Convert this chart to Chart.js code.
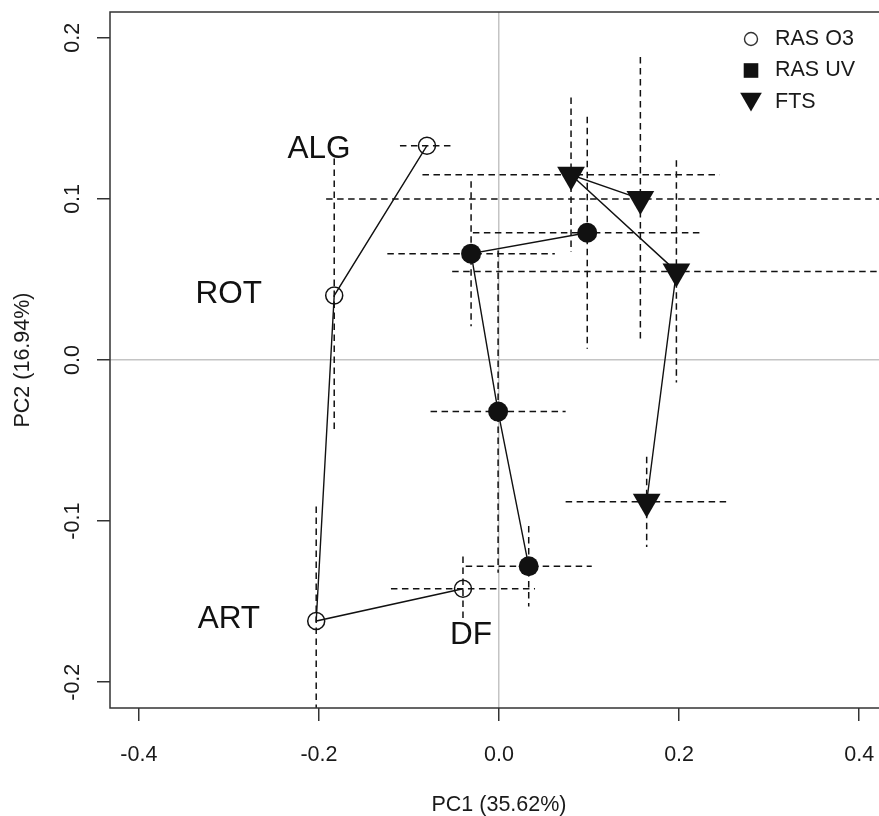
<!DOCTYPE html>
<html>
<head>
<meta charset="utf-8">
<title>PCA scores</title>
<script src="https://cdn.jsdelivr.net/npm/chart.js@4.4.1/dist/chart.umd.min.js"></script>
<style>
    html, body { margin: 0; padding: 0; background: #fff; overflow: hidden; }
    #wrap { width: 900px; height: 816px; position: relative; }
</style>
</head>
<body>
<div id="wrap"><canvas id="pcaChart"></canvas></div>
<script>
// RAS O3 scores, in the order the path joins them
const o3X = [-0.040, -0.203, -0.183, -0.080];
const o3Y = [-0.142, -0.162, 0.040, 0.133];
const o3XErr = [0.080, 0, 0, 0.030];
const o3YErr = [0.020, 0.071, 0.085, 0];

// RAS UV scores
const uvX = [0.098, -0.031, -0.001, 0.033];
const uvY = [0.079, 0.066, -0.032, -0.128];
const uvXErr = [0.127, 0.093, 0.075, 0.070];
const uvYErr = [0.072, 0.045, 0.100, 0.025];

// FTS scores
const ftsX = [0.157, 0.080, 0.197, 0.164];
const ftsY = [0.100, 0.115, 0.055, -0.088];
const ftsXErr = [0.349, 0.165, 0.249, 0.090];
const ftsYErr = [0.088, 0.048, 0.069, 0.028];

const xTicks = [-0.4, -0.2, 0.0, 0.2, 0.4];
const yTicks = [-0.2, -0.1, 0.0, 0.1, 0.2];

// site names written next to the O3 path
const siteNames = ['ALG', 'ROT', 'ART', 'DF'];
const siteNameX = [-0.200, -0.300, -0.300, -0.031];
const siteNameY = [0.131, 0.041, -0.161, -0.171];

const FONT = "'Liberation Sans', Arial, Helvetica, sans-serif";
const INK = '#111';

Chart.defaults.font.family = FONT;
Chart.defaults.color = '#1a1a1a';

function toPoints(xs, ys, xErr, yErr) {
    return xs.map((x, i) => ({ x: x, y: ys[i], xErr: xErr[i], yErr: yErr[i] }));
}

// fixed axis sizes, and no extra room reserved for overhanging labels
function pinAxis(size) {
    return s => {
        if (s.isHorizontal()) s.height = size; else s.width = size;
        s.paddingLeft = s.paddingRight = s.paddingTop = s.paddingBottom = 0;
    };
}

// dashed +/- bars behind the symbols
const errorBars = {
    id: 'errorBars',
    beforeDatasetsDraw(chart) {
        const { ctx, chartArea: a, scales: { x, y } } = chart;
        ctx.save();
        ctx.beginPath();
        ctx.rect(a.left, a.top, a.width, a.height);
        ctx.clip();
        ctx.strokeStyle = INK;
        ctx.lineWidth = 1.5;
        ctx.setLineDash([6.5, 4.5]);
        chart.data.datasets.forEach(ds => {
            ds.data.forEach(p => {
                const px = x.getPixelForValue(p.x);
                const py = y.getPixelForValue(p.y);
                if (p.xErr) {
                    ctx.beginPath();
                    ctx.moveTo(x.getPixelForValue(p.x - p.xErr), py);
                    ctx.lineTo(x.getPixelForValue(p.x + p.xErr), py);
                    ctx.stroke();
                }
                if (p.yErr) {
                    ctx.beginPath();
                    ctx.moveTo(px, y.getPixelForValue(p.y + p.yErr));
                    ctx.lineTo(px, y.getPixelForValue(p.y - p.yErr));
                    ctx.stroke();
                }
            });
        });
        ctx.restore();
    }
};

// frame, site names and the key
const decorations = {
    id: 'decorations',
    afterDraw(chart) {
        const { ctx, chartArea: a, scales: { x, y } } = chart;
        ctx.save();

        ctx.strokeStyle = '#333';
        ctx.lineWidth = 1.5;
        ctx.setLineDash([]);
        ctx.strokeRect(a.left, a.top, a.width, a.height);

        ctx.fillStyle = '#111';
        ctx.font = '31.5px ' + FONT;
        ctx.textAlign = 'center';
        ctx.textBaseline = 'middle';
        siteNames.forEach((name, i) => {
            ctx.fillText(name, x.getPixelForValue(siteNameX[i]), y.getPixelForValue(siteNameY[i]));
        });

        // key in the top right corner
        const kx = 751;
        const rows = [39, 70.5, 102];
        ctx.lineWidth = 1.4;
        ctx.beginPath();
        ctx.arc(kx, rows[0], 6.5, 0, Math.PI * 2);
        ctx.stroke();
        ctx.fillRect(kx - 7.3, rows[1] - 7.3, 14.6, 14.6);
        const r = 12.5;
        ctx.beginPath();
        ctx.moveTo(kx, rows[2] - 3 + r);
        ctx.lineTo(kx - r * 0.866, rows[2] - 3 - r / 2);
        ctx.lineTo(kx + r * 0.866, rows[2] - 3 - r / 2);
        ctx.closePath();
        ctx.fill();

        ctx.font = '21.5px ' + FONT;
        ctx.textAlign = 'left';
        ctx.fillStyle = '#1a1a1a';
        ['RAS O3', 'RAS UV', 'FTS'].forEach((t, i) => ctx.fillText(t, 775, rows[i]));

        ctx.restore();
    }
};

const zeroGrid = c => (c.tick && c.tick.value === 0 ? '#c4c4c4' : 'rgba(0,0,0,0)');
const oneDecimal = v => Number(v).toFixed(1);

const ctx = document.getElementById('pcaChart').getContext('2d');
new Chart(ctx, {
    type: 'scatter',
    data: {
        datasets: [
            {
                label: 'RAS O3',
                data: toPoints(o3X, o3Y, o3XErr, o3YErr),
                showLine: true,
                borderColor: INK,
                borderWidth: 1.4,
                pointStyle: 'circle',
                pointRadius: 8.5,
                pointBackgroundColor: 'rgba(0,0,0,0)',
                pointBorderColor: INK,
                pointBorderWidth: 1.5
            },
            {
                label: 'RAS UV',
                data: toPoints(uvX, uvY, uvXErr, uvYErr),
                showLine: true,
                borderColor: INK,
                borderWidth: 1.4,
                pointStyle: 'circle',
                pointRadius: 10,
                pointBackgroundColor: INK,
                pointBorderColor: INK,
                pointBorderWidth: 0
            },
            {
                label: 'FTS',
                data: toPoints(ftsX, ftsY, ftsXErr, ftsYErr),
                showLine: true,
                borderColor: INK,
                borderWidth: 1.4,
                pointStyle: 'triangle',
                pointRotation: 180,
                pointRadius: 16,
                pointBackgroundColor: INK,
                pointBorderColor: INK,
                pointBorderWidth: 0
            }
        ]
    },
    options: {
        responsive: true,
        maintainAspectRatio: false,
        animation: false,
        events: [],
        layout: { autoPadding: false, padding: { top: 12, right: 12, left: 0, bottom: 0 } },
        plugins: {
            legend: { display: false },
            tooltip: { enabled: false }
        },
        scales: {
            x: {
                type: 'linear',
                min: -0.432,
                max: 0.432,
                afterBuildTicks: s => { s.ticks = xTicks.map(v => ({ value: v })); },
                afterFit: pinAxis(108),
                border: { display: false },
                grid: { color: zeroGrid, lineWidth: 1.5, tickColor: '#333', tickWidth: 1.5, tickLength: 13 },
                ticks: { callback: oneDecimal, font: { size: 21.5 }, padding: 21, maxRotation: 0, color: '#1a1a1a' },
                title: { display: true, text: 'PC1 (35.62%)', font: { size: 21.5, lineHeight: 1.0 }, padding: { top: 0, bottom: 0 }, color: '#1a1a1a' }
            },
            y: {
                type: 'linear',
                min: -0.216,
                max: 0.216,
                afterBuildTicks: s => { s.ticks = yTicks.map(v => ({ value: v })); },
                afterFit: pinAxis(110),
                border: { display: false },
                grid: { color: zeroGrid, lineWidth: 1.5, tickColor: '#333', tickWidth: 1.5, tickLength: 13 },
                ticks: { callback: oneDecimal, font: { size: 21.5 }, padding: 5, minRotation: 90, maxRotation: 90, crossAlign: 'center', color: '#1a1a1a' },
                title: { display: true, text: 'PC2 (16.94%)', font: { size: 21.5 }, padding: { top: 10, bottom: 0 }, color: '#1a1a1a' }
            }
        }
    },
    plugins: [errorBars, decorations]
});
</script>
</body>
</html>
